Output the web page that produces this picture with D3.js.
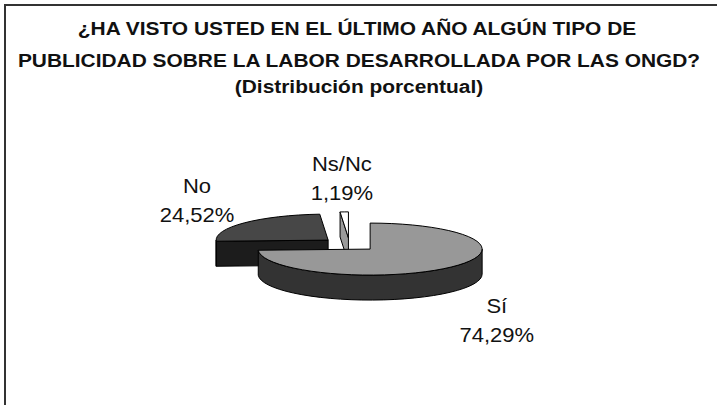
<!DOCTYPE html>
<html>
<head>
<meta charset="utf-8">
<script src="https://cdn.jsdelivr.net/npm/d3@7"></script>
<style>
  html, body { margin: 0; padding: 0; background: #fff; }
  svg { display: block; }
  text { font-family: Arial, "Liberation Sans", sans-serif; fill: #111; }
</style>
</head>
<body>
<div class="pie-chart"></div>
<script>
// Data
const titleLines = [
  '¿HA VISTO USTED EN EL ÚLTIMO AÑO ALGÚN TIPO DE',
  'PUBLICIDAD SOBRE LA LABOR DESARROLLADA POR LAS ONGD?',
  '(Distribución porcentual)'
];
const categories = ['Sí', 'No', 'Ns/Nc'];
const values = [74.29, 24.52, 1.19];
const valueLabels = ['74,29%', '24,52%', '1,19%'];

// Look
const topColors = ['#989898', '#474747', '#ffffff'];
const sideColors = ['#333333', '#1c1c1c', '#9a9a9a'];

const W = 717, H = 405;
const cx = 349.5, cy = 244.5;   // pie centre before explode
const rx = 112, ry = 26, depth = 25;
const explode = 0.255;

const svg = d3.select('.pie-chart')
  .append('svg')
  .attr('width', W)
  .attr('height', H);

svg.append('rect').attr('width', W).attr('height', H).attr('fill', '#fff');

// frame (only top and left show in the picture)
svg.append('path')
  .attr('d', `M5,${H} L5,5 L${W},5`)
  .attr('fill', 'none')
  .attr('stroke', '#333')
  .attr('stroke-width', 2);

// Title
svg.append('g')
  .selectAll('text')
  .data(titleLines)
  .enter()
  .append('text')
  .attr('transform', (d, i) => `translate(${[357, 359, 359][i]},${[35, 67, 93][i]}) scale(1.1,1)`)
  .attr('text-anchor', 'middle')
  .attr('font-weight', 'bold')
  .attr('font-size', 19)
  .text(d => d);

const color = d3.scaleOrdinal().domain(categories).range(topColors);
const sideColor = d3.scaleOrdinal().domain(categories).range(sideColors);

const pie = d3.pie().sort(null).value(d => d.value);
const arcs = pie(categories.map((c, i) => ({ cat: c, value: values[i], label: valueLabels[i] })));

// exploded centre for each slice
arcs.forEach(a => {
  const m = (a.startAngle + a.endAngle) / 2;
  a.mid = m;
  a.cx = cx + explode * rx * Math.sin(m);
  a.cy = cy - explode * ry * Math.cos(m);
});

function rim(a, ang, dy = 0) {
  return [a.cx + rx * Math.sin(ang), a.cy - ry * Math.cos(ang) + dy];
}

function topPath(a) {
  const p0 = rim(a, a.startAngle), p1 = rim(a, a.endAngle);
  const large = a.endAngle - a.startAngle > Math.PI ? 1 : 0;
  return `M${a.cx},${a.cy} L${p0} A${rx},${ry} 0 ${large} 1 ${p1} Z`;
}

function wallPath(a) {
  const s = Math.max(a.startAngle, Math.PI / 2);
  const e = Math.min(a.endAngle, 3 * Math.PI / 2);
  if (e <= s) return null;
  const p0 = rim(a, s), p1 = rim(a, e);
  const q1 = rim(a, e, depth), q0 = rim(a, s, depth);
  return `M${p0} A${rx},${ry} 0 0 1 ${p1} L${q1} A${rx},${ry} 0 0 0 ${q0} Z`;
}

function facePath(a, ang) {
  const p = rim(a, ang), q = rim(a, ang, depth);
  return `M${a.cx},${a.cy} L${p} L${q} L${a.cx},${a.cy + depth} Z`;
}

const order = arcs.slice().sort((a, b) => a.cy - b.cy);

const slices = svg.append('g')
  .selectAll('g')
  .data(order)
  .enter()
  .append('g')
  .attr('stroke', '#000')
  .attr('stroke-width', 1)
  .attr('stroke-linejoin', 'round');

slices.each(function (a) {
  const g = d3.select(this);
  if (Math.sin(a.startAngle) < -1e-6)
    g.append('path').attr('d', facePath(a, a.startAngle)).attr('fill', sideColor(a.data.cat));
  if (Math.sin(a.endAngle) > 1e-6)
    g.append('path').attr('d', facePath(a, a.endAngle)).attr('fill', sideColor(a.data.cat));
  const w = wallPath(a);
  if (w) g.append('path').attr('d', w).attr('fill', sideColor(a.data.cat));
  g.append('path').attr('d', topPath(a)).attr('fill', color(a.data.cat));
});

// Labels
const labels = svg.append('g')
  .selectAll('g')
  .data(arcs)
  .enter()
  .append('g')
  .attr('transform', a => {
    const c = Math.cos(a.mid);
    const x = cx + 1.82 * rx * Math.sin(a.mid);
    const y = cy - 66 * c + (c < 0 ? depth + 6 : 0);
    return `translate(${x},${y})`;
  });

labels.append('text')
  .attr('transform', 'translate(0,-8) scale(1.1,1)')
  .attr('text-anchor', 'middle')
  .attr('font-size', 20)
  .text(a => a.data.cat);

labels.append('text')
  .attr('transform', 'translate(0,21) scale(1.1,1)')
  .attr('text-anchor', 'middle')
  .attr('font-size', 20)
  .text(a => a.data.label);
</script>
</body>
</html>
